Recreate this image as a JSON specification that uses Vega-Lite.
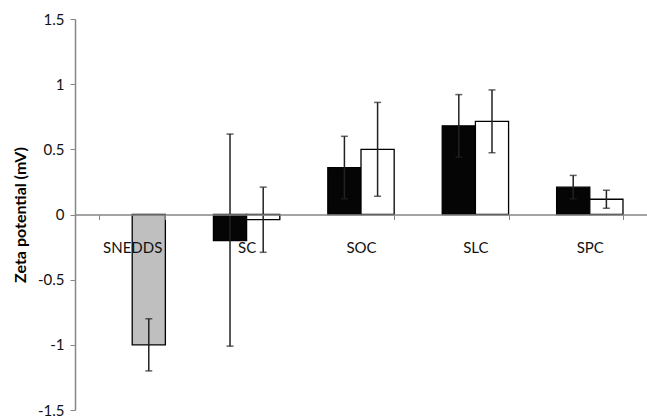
{
  "$schema": "https://vega.github.io/schema/vega-lite/v6.json",
  "autosize": "none",
  "width": 572,
  "height": 391,
  "padding": {"left": 75, "top": 19, "right": 0, "bottom": 8},
  "background": "white",
  "config": {
    "font": "Lato",
    "view": {"stroke": null},
    "axis": {"grid": false}
  },
  "data": {
    "values": [
      {"cat": "SNEDDS", "series": "SNEDDS", "pos": 2, "value": -1.0, "lo": -1.2, "hi": -0.8},
      {"cat": "SC", "series": "A", "pos": 1, "value": -0.2, "lo": -1.01, "hi": 0.617},
      {"cat": "SC", "series": "B", "pos": 2, "value": -0.04, "lo": -0.29, "hi": 0.21},
      {"cat": "SOC", "series": "A", "pos": 1, "value": 0.36, "lo": 0.12, "hi": 0.6},
      {"cat": "SOC", "series": "B", "pos": 2, "value": 0.5, "lo": 0.14, "hi": 0.86},
      {"cat": "SLC", "series": "A", "pos": 1, "value": 0.68, "lo": 0.44, "hi": 0.92},
      {"cat": "SLC", "series": "B", "pos": 2, "value": 0.715, "lo": 0.474, "hi": 0.956},
      {"cat": "SPC", "series": "A", "pos": 1, "value": 0.21, "lo": 0.12, "hi": 0.3},
      {"cat": "SPC", "series": "B", "pos": 2, "value": 0.117, "lo": 0.048, "hi": 0.186}
    ]
  },
  "encoding": {
    "x": {
      "field": "cat",
      "type": "nominal",
      "sort": ["SNEDDS", "SC", "SOC", "SLC", "SPC"],
      "scale": {"paddingInner": 0.42, "paddingOuter": 0.21},
      "axis": {
        "title": null,
        "offset": -195.5,
        "zindex": 1,
        "labelAngle": 0,
        "labelFontSize": 15,
        "labelColor": "#111",
        "labelPadding": 21,
        "tickBand": "extent",
        "tickSize": 5,
        "tickColor": "#868686",
        "domainColor": "#868686",
        "domainWidth": 1.5,
        "tickWidth": 1
      }
    },
    "xOffset": {"field": "pos", "type": "ordinal", "scale": {"paddingInner": 0, "paddingOuter": 0}}
  },
  "layer": [
    {
      "mark": {"type": "bar", "stroke": "black", "strokeWidth": 1.3},
      "encoding": {
        "y": {
          "field": "value",
          "type": "quantitative",
          "scale": {"domain": [-1.5, 1.5], "nice": false},
          "axis": {
            "values": [-1.5, -1, -0.5, 0, 0.5, 1, 1.5],
            "labelExpr": "'' + datum.value",
            "title": "Zeta potential (mV)",
            "titleFontSize": 16,
            "titleFontWeight": "bold",
            "titleColor": "#000",
            "titlePadding": 9,
            "labelFontSize": 15,
            "labelColor": "#111",
            "labelPadding": 6,
            "tickSize": 5,
            "tickColor": "#868686",
            "domainColor": "#868686",
            "domainWidth": 1.5
          }
        },
        "color": {
          "field": "series",
          "type": "nominal",
          "scale": {"domain": ["A", "B", "SNEDDS"], "range": ["#050505", "#ffffff", "#bfbfbf"]},
          "legend": null
        }
      }
    },
    {
      "mark": {"type": "rule", "color": "#222", "strokeWidth": 1.5},
      "encoding": {
        "y": {"field": "lo", "type": "quantitative"},
        "y2": {"field": "hi"}
      }
    },
    {
      "mark": {"type": "tick", "color": "#222", "thickness": 1.5, "size": 7},
      "encoding": {
        "y": {"field": "lo", "type": "quantitative"}
      }
    },
    {
      "mark": {"type": "tick", "color": "#222", "thickness": 1.5, "size": 7},
      "encoding": {
        "y": {"field": "hi", "type": "quantitative"}
      }
    }
  ]
}
